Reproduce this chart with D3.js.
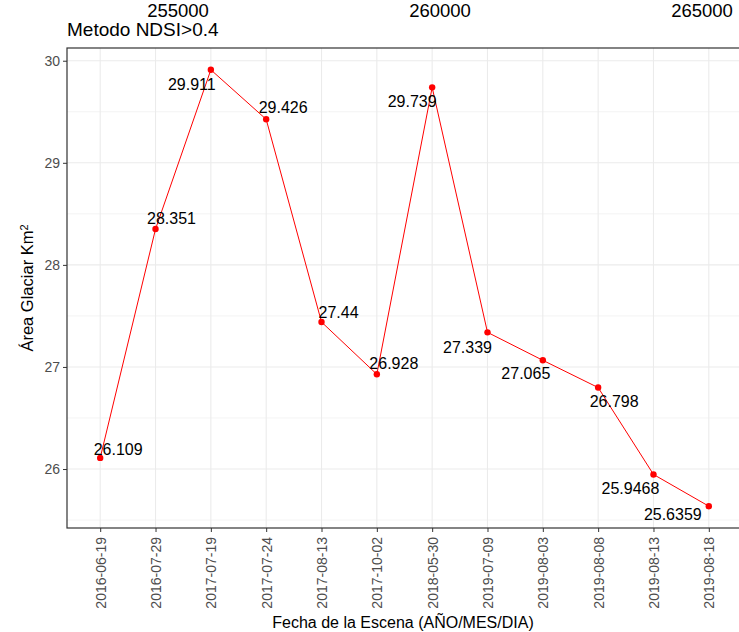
<!DOCTYPE html>
<meta charset="utf-8">
<script src="https://d3js.org/d3.v7.min.js"></script>
<style>
  body { margin: 0; background: #fff; }
  text { font-family: "Liberation Sans", Arial, sans-serif; }
</style>
<div id="chart"></div>
<script>

// data
var fechas = ["2016-06-19", "2016-07-29", "2017-07-19", "2017-07-24", "2017-08-13", "2017-10-02",
              "2018-05-30", "2019-07-09", "2019-08-03", "2019-08-08", "2019-08-13", "2019-08-18"];
var areas = [26.109, 28.351, 29.911, 29.426, 27.44, 26.928, 29.739, 27.339, 27.065, 26.798, 25.9468, 25.6359];
var yTicks = [26, 27, 28, 29, 30];
var topTicks = [255000, 260000, 265000];

// label nudges (px) so the numbers sit the way they do in the original
var nudgeX = [18, 16, -19, 17, 17, 17, -20, -20, -17, 16, -23, -36];
var nudgeY = [-9, -11, 14, -12, -10, -11, 14, 15, 13, 14, 14, 8];

var W = 739, H = 632;
// panel edges (note: "top" is taken by window.top, so prefix them)
var pLeft = 67, pTop = 48, pRight = 742, pBottom = 528;

var svg = d3.select("#chart").append("svg")
    .attr("width", W)
    .attr("height", H);

var x = d3.scalePoint()
    .domain(fechas)
    .range([pLeft, pRight])
    .padding(0.6);

var ext = d3.extent(areas);
var pad = (ext[1] - ext[0]) * 0.05;
var y = d3.scaleLinear()
    .domain([ext[0] - pad, ext[1] + pad])
    .range([pBottom, pTop]);

// fake top axis (just labels)
var xTop = d3.scaleLinear().domain([255000, 265000]).range([178, 702]);

// grid
var grid = svg.append("g");
d3.range(25.5, 30.5, 1).forEach(function(v) {
  grid.append("line")
    .attr("x1", pLeft).attr("x2", pRight)
    .attr("y1", y(v)).attr("y2", y(v))
    .attr("stroke", "#ebebeb").attr("stroke-width", 0.6);
});
yTicks.forEach(function(v) {
  grid.append("line")
    .attr("x1", pLeft).attr("x2", pRight)
    .attr("y1", y(v)).attr("y2", y(v))
    .attr("stroke", "#ebebeb").attr("stroke-width", 1.1);
});
fechas.forEach(function(f) {
  grid.append("line")
    .attr("x1", x(f)).attr("x2", x(f))
    .attr("y1", pTop).attr("y2", pBottom)
    .attr("stroke", "#ebebeb").attr("stroke-width", 1.1);
});

// line + points
var line = d3.line()
    .x(function(d, i) { return x(fechas[i]); })
    .y(function(d) { return y(d); });

svg.append("path")
    .datum(areas)
    .attr("d", line)
    .attr("fill", "none")
    .attr("stroke", "red")
    .attr("stroke-width", 1);

svg.append("g").selectAll("circle")
  .data(areas)
  .join("circle")
    .attr("cx", function(d, i) { return x(fechas[i]); })
    .attr("cy", function(d) { return y(d); })
    .attr("r", 3.2)
    .attr("fill", "red");

svg.append("g").selectAll("text")
  .data(areas)
  .join("text")
    .attr("x", function(d, i) { return x(fechas[i]) + nudgeX[i]; })
    .attr("y", function(d, i) { return y(d) + nudgeY[i]; })
    .attr("dy", "0.36em")
    .attr("text-anchor", "middle")
    .style("font-size", "16px")
    .attr("fill", "#000")
    .text(function(d) { return String(d); });

// panel border
svg.append("rect")
    .attr("x", pLeft).attr("y", pTop)
    .attr("width", pRight - pLeft).attr("height", pBottom - pTop)
    .attr("fill", "none")
    .attr("stroke", "#333")
    .attr("stroke-width", 1.2);

// y axis
var yAxis = svg.append("g")
    .attr("transform", "translate(" + pLeft + ",0)")
    .call(d3.axisLeft(y).tickValues(yTicks).tickSize(4).tickPadding(3).tickFormat(d3.format("d")));
yAxis.select(".domain").remove();
yAxis.selectAll("line").attr("stroke", "#333");
yAxis.selectAll("text").attr("fill", "#4d4d4d").style("font-size", "14px")
    .style("font-family", "'Liberation Sans', Arial, sans-serif");

// x axis
var xAxis = svg.append("g")
    .attr("transform", "translate(0," + pBottom + ")")
    .call(d3.axisBottom(x).tickSize(4).tickPadding(3));
xAxis.select(".domain").remove();
xAxis.selectAll("line").attr("stroke", "#333");
xAxis.selectAll("text")
    .attr("fill", "#4d4d4d")
    .style("font-size", "14px")
    .style("font-family", "'Liberation Sans', Arial, sans-serif")
    .attr("transform", "rotate(-90)")
    .attr("text-anchor", "end")
    .attr("x", -9)
    .attr("y", 0)
    .attr("dy", "0.35em");

// top labels
svg.append("g").selectAll("text")
  .data(topTicks)
  .join("text")
    .attr("x", function(d) { return xTop(d); })
    .attr("y", 17)
    .attr("text-anchor", "middle")
    .style("font-size", "18.5px")
    .text(function(d) { return d; });

// title
svg.append("text")
    .attr("x", 67)
    .attr("y", 36)
    .style("font-size", "19px")
    .text("Metodo NDSI>0.4");

// axis titles
svg.append("text")
    .attr("x", (67 + 739) / 2)
    .attr("y", 628)
    .attr("text-anchor", "middle")
    .style("font-size", "16px")
    .text("Fecha de la Escena (AÑO/MES/DIA)");

var yt = svg.append("text")
    .attr("transform", "translate(33," + ((pTop + pBottom) / 2) + ") rotate(-90)")
    .attr("text-anchor", "middle")
    .style("font-size", "16.5px");
yt.append("tspan").text("Área Glaciar Km");
yt.append("tspan").attr("dy", "-0.5em").style("font-size", "11px").text("2");

</script>
